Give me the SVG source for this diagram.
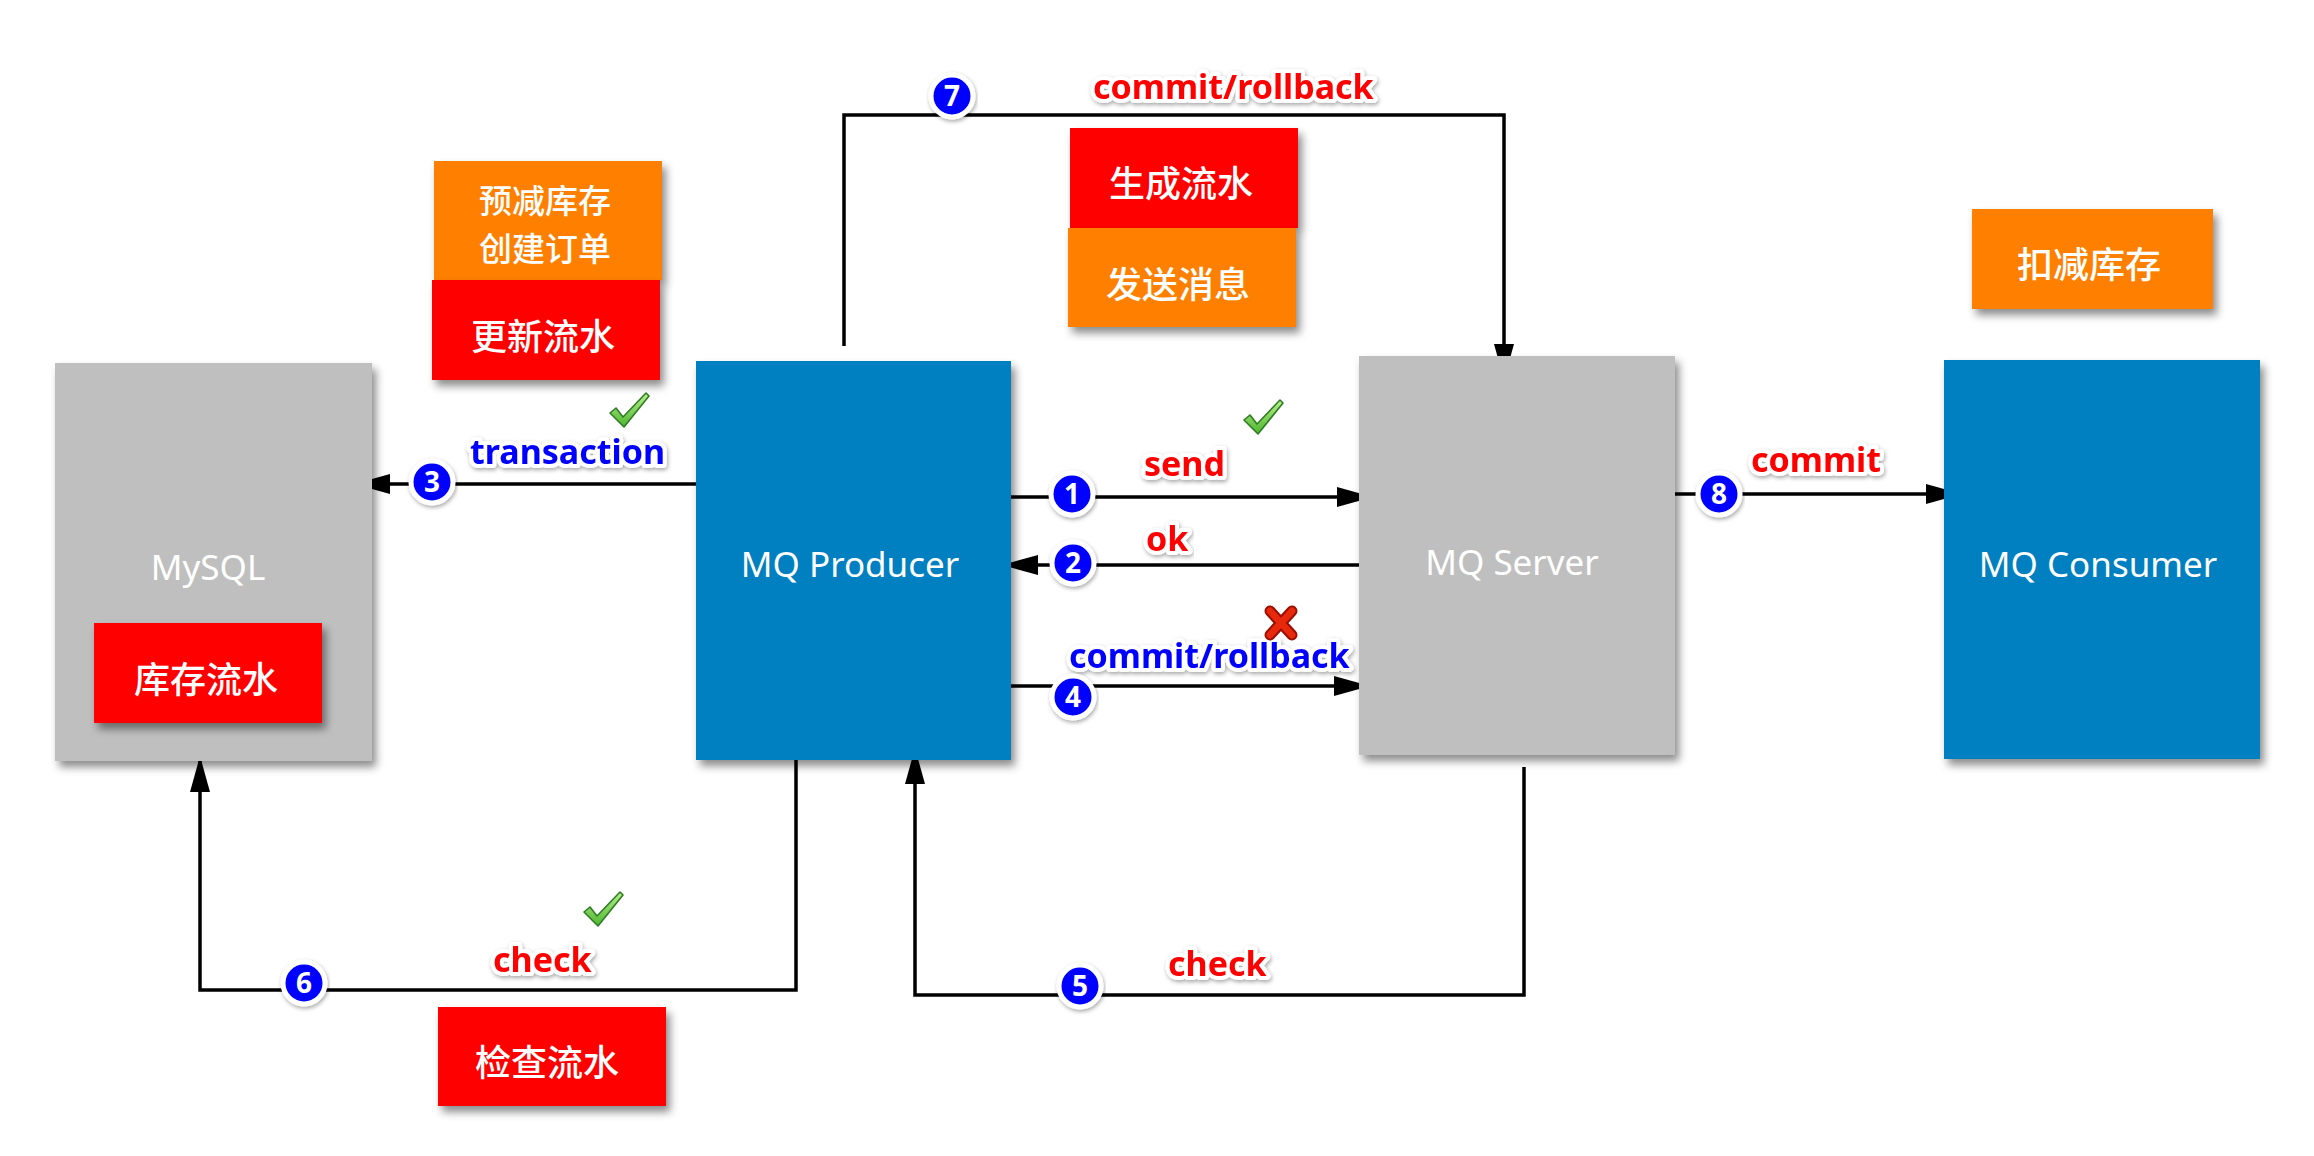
<svg xmlns="http://www.w3.org/2000/svg" width="2314" height="1156" viewBox="0 0 2314 1156">
<defs>
<filter id="sh" x="-10%" y="-10%" width="130%" height="130%">
<feDropShadow dx="4" dy="6" stdDeviation="4" flood-color="#000" flood-opacity="0.45"/>
</filter>
<filter id="lsh" x="-10%" y="-20%" width="120%" height="150%">
<feDropShadow dx="1" dy="2" stdDeviation="2" flood-color="#000" flood-opacity="0.35"/>
</filter>
<marker id="ah" markerUnits="userSpaceOnUse" markerWidth="36" markerHeight="22" viewBox="0 0 36 22" refX="35" refY="11" orient="auto">
<path d="M0,1 L36,11 L0,21 Z" fill="#000"/>
</marker>
<linearGradient id="gck" x1="0" y1="0" x2="0" y2="1">
<stop offset="0" stop-color="#B8F08C"/>
<stop offset="1" stop-color="#4DB52E"/>
</linearGradient>
<g id="check">
<path d="M1,20 L7,15 L14,24 L37,0 L40,3 L15,34 Z" fill="url(#gck)" stroke="#2F7D25" stroke-width="1.6" stroke-linejoin="round"/>
</g>
</defs>
<style>
.box{filter:url(#sh);}
.gray{fill:#BFBFBF;}
.blue{fill:#0080C0;}
.orange{fill:#FF8000;}
.red{fill:#FF0000;}
.nt{font-family:"Noto Sans","Open Sans","Liberation Sans",sans-serif;font-size:35px;fill:#fff;text-anchor:middle;}
.ct{font-family:"Noto Sans CJK SC","Noto Sans",sans-serif;font-size:36px;font-weight:500;fill:#fff;text-anchor:middle;}
.ct2{font-size:33px;}
.lbl{font-family:"Noto Sans","Open Sans","Liberation Sans",sans-serif;font-size:34px;font-weight:bold;stroke:#fff;stroke-width:8;stroke-linejoin:round;paint-order:stroke;filter:url(#lsh);}
.lr{fill:#FF0000;}
.lb{fill:#0000FF;}
.ln{fill:none;stroke:#000;stroke-width:3.5;stroke-linejoin:miter;}
.num circle{fill:#0000FF;stroke:#fff;stroke-width:5;filter:url(#lsh);}
.num text{font-family:"Noto Sans","Liberation Sans",sans-serif;font-size:28px;font-weight:bold;fill:#fff;text-anchor:middle;}
</style>
<rect width="2314" height="1156" fill="#fff"/>

<g id="connectors">
<path class="ln" d="M844,346 V115 H1504 V379" stroke-width="3" marker-end="url(#ah)"/>
<path class="ln" d="M708,484 H355" stroke-width="4" marker-end="url(#ah)"/>
<path class="ln" d="M1003,497 H1372" marker-end="url(#ah)"/>
<path class="ln" d="M1368,565 H1003" marker-end="url(#ah)"/>
<path class="ln" d="M1010,686 H1369" marker-end="url(#ah)"/>
<path class="ln" d="M1666,494 H1961" marker-end="url(#ah)"/>
<path class="ln" d="M796,759 V990 H200 V757" marker-end="url(#ah)"/>
<path class="ln" d="M1524,767 V995 H915 V749" marker-end="url(#ah)"/>
</g>

<g id="mysql">
<rect class="box gray" x="55" y="363" width="317" height="398"/>
<text class="nt" x="208" y="580">MySQL</text>
</g>
<g id="stock-log">
<rect class="box red" x="94" y="623" width="228" height="100"/>
<text class="ct" x="206" y="693">库存流水</text>
</g>
<g id="mq-producer">
<rect class="box blue" x="696" y="361" width="315" height="399"/>
<text class="nt" x="850" y="577">MQ Producer</text>
</g>
<g id="mq-server">
<rect class="box gray" x="1359" y="356" width="316" height="399"/>
<text class="nt" x="1512" y="575">MQ Server</text>
</g>
<g id="mq-consumer">
<rect class="box blue" x="1944" y="360" width="316" height="399"/>
<text class="nt" x="2098" y="577">MQ Consumer</text>
</g>
<g id="pre-reduce">
<rect class="box orange" x="434" y="161" width="228" height="119"/>
<text class="ct ct2" x="545" y="213">预减库存</text>
<text class="ct ct2" x="545" y="261">创建订单</text>
</g>
<g id="update-log">
<rect class="box red" x="432" y="280" width="228" height="100"/>
<text class="ct" x="543" y="350">更新流水</text>
</g>
<g id="gen-log">
<rect class="box red" x="1070" y="128" width="228" height="100"/>
<text class="ct" x="1181" y="197">生成流水</text>
</g>
<g id="send-msg">
<rect class="box orange" x="1068" y="228" width="228" height="99"/>
<text class="ct" x="1178" y="298">发送消息</text>
</g>
<g id="deduct-stock">
<rect class="box orange" x="1972" y="209" width="241" height="100"/>
<text class="ct" x="2089" y="278">扣减库存</text>
</g>
<g id="check-log">
<rect class="box red" x="438" y="1007" width="228" height="99"/>
<text class="ct" x="547" y="1076">检查流水</text>
</g>

<g id="labels">
<text class="lbl lr" x="1093" y="99">commit/rollback</text>
<text class="lbl lb" x="470" y="464">transaction</text>
<text class="lbl lr" x="1144" y="476">send</text>
<text class="lbl lr" x="1146" y="551">ok</text>
<text class="lbl lb" x="1069" y="668">commit/rollback</text>
<text class="lbl lr" x="1751" y="472">commit</text>
<text class="lbl lr" x="493" y="972">check</text>
<text class="lbl lr" x="1168" y="976">check</text>
</g>

<g id="numbers" class="num">
<g><circle cx="952" cy="96" r="21"/><text x="952" y="106">7</text></g>
<g><circle cx="432" cy="482" r="21"/><text x="432" y="492">3</text></g>
<g><circle cx="1072" cy="494" r="21"/><text x="1072" y="504">1</text></g>
<g><circle cx="1073" cy="563" r="21"/><text x="1073" y="573">2</text></g>
<g><circle cx="1073" cy="697" r="21"/><text x="1073" y="707">4</text></g>
<g><circle cx="1719" cy="494" r="21"/><text x="1719" y="504">8</text></g>
<g><circle cx="304" cy="983" r="21"/><text x="304" y="993">6</text></g>
<g><circle cx="1080" cy="986" r="21"/><text x="1080" y="996">5</text></g>
</g>

<g id="marks">
<use href="#check" x="609" y="393"/>
<use href="#check" x="1243" y="400"/>
<use href="#check" x="583" y="892"/>
<g transform="translate(1263,605)">
<path d="M7,6 L29,30 M29,6 L7,30" stroke="#fff" stroke-width="15" stroke-linecap="round" fill="none"/>
<path d="M7,6 L29,30 M29,6 L7,30" stroke="#9A0F00" stroke-width="11" stroke-linecap="round" fill="none"/>
<path d="M7,6 L29,30 M29,6 L7,30" stroke="#E8280A" stroke-width="7" stroke-linecap="round" fill="none"/>
</g>
</g>
</svg>
